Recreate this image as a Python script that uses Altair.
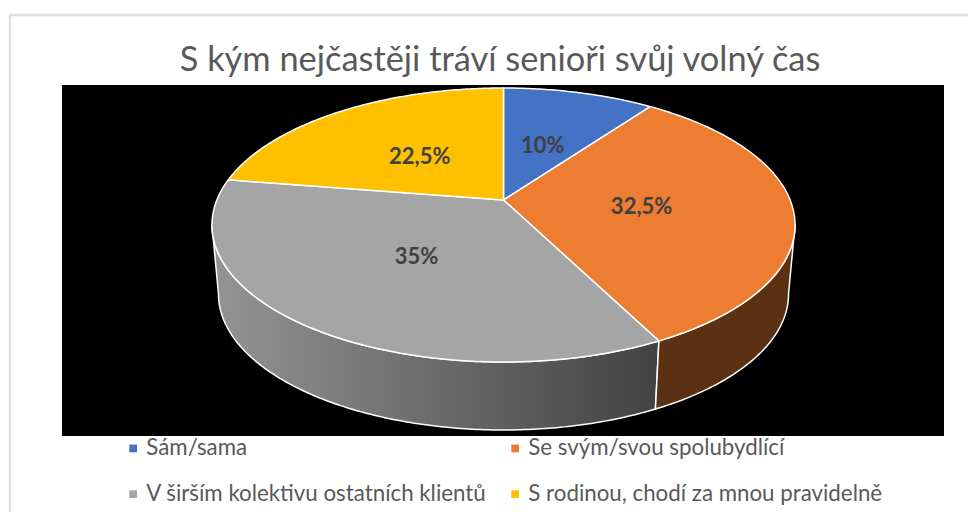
import math
import altair as alt
import pandas as pd

TITLE = "S kým nejčastěji tráví senioři svůj volný čas"
CATEGORIES = ["Sám/sama", "Se svým/svou spolubydlící", "V širším kolektivu ostatních klientů", "S rodinou, chodí za mnou pravidelně"]
SHARES = [10, 32.5, 35, 22.5]
LABELS = ["10%", "32,5%", "35%", "22,5%"]
COLORS = ["#4472C4", "#ED7D31", "#A5A5A5", "#FFC000"]
LEGEND_ORDER = [0, 2, 1, 3]
BROWN = "#5B3114"

W, H = 960, 504
OX, OY = 8, 8  # page margin

# tilted-disc projection of the pie (reference pixel frame)
CX, CY_TOP, RX_TOP, RY_TOP = 503.5, 225, 291.5, 137
CY_BOT, RX_BOT, RY_BOT = 294, 285, 136
P = 0.1825
SHIFT = 25


def project(theta_deg, r=1.0, cy=CY_TOP, rx=RX_TOP, ry=RY_TOP):
    t = math.radians(theta_deg)
    u, v = r * math.sin(t), r * math.cos(t)
    d = 1 + P * v
    a = rx / 1.017
    return CX - OX + a * u / d, cy - OY + (-ry * v - SHIFT * ry / RY_TOP) / d


def arc(t0, t1, **kw):
    n = max(2, int(abs(t1 - t0) * 1.5))
    return [project(t0 + (t1 - t0) * i / n, **kw) for i in range(n + 1)]


cum = [0]
for s in SHARES:
    cum.append(cum[-1] + s * 3.6)

rows = []
for cat, t0, t1 in zip(CATEGORIES, cum[:-1], cum[1:]):
    pts = [project(0, r=0)] + arc(t0, t1)
    pts.append(pts[0])
    for i, (x, y) in enumerate(pts):
        rows.append({"cat": cat, "x": x, "y": y, "i": i})
slices = pd.DataFrame(rows)

labels = pd.DataFrame(
    [
        dict(zip(("x", "y"), project((a + b) / 2, r=0.48))) | {"t": l}
        for a, b, l in zip(cum[:-1], cum[1:], LABELS)
    ]
)


def wall(t0, t1):
    top = arc(t0, t1)
    bot = arc(t1, t0, cy=CY_BOT, rx=RX_BOT, ry=RY_BOT)
    pts = top + bot + top[:1]
    return pd.DataFrame([{"x": x, "y": y, "i": i} for i, (x, y) in enumerate(pts)])


X = alt.X("x:Q", scale=alt.Scale(domain=[0, W], range=[0, W]), axis=None)
Y = alt.Y("y:Q", scale=alt.Scale(domain=[0, H], range=[0, H]), axis=None)
ORDER = alt.Order("i:Q")
one = pd.DataFrame({"a": [0]})

border_top = alt.Chart(one).mark_rule(stroke="#E0E0E0", strokeWidth=2.5).encode(
    x=alt.value(2), x2=alt.value(W), y=alt.value(7)
)
border_left = alt.Chart(one).mark_rule(stroke="#E0E0E0", strokeWidth=2.5).encode(
    x=alt.value(2), y=alt.value(6), y2=alt.value(H)
)
black = alt.Chart(one).mark_rect(fill="black").encode(
    x=alt.value(54), x2=alt.value(936), y=alt.value(77), y2=alt.value(428)
)
title = alt.Chart(pd.DataFrame({"t": [TITLE]})).mark_text(
    font="Lato", fontSize=34.4, color="#595959", align="center", baseline="alphabetic"
).encode(text="t:N", x=alt.value(492), y=alt.value(63))

grad = alt.LinearGradient(
    gradient="linear", x1=0, x2=1, y1=0, y2=0,
    stops=[alt.GradientStop(offset=0, color="#949494"), alt.GradientStop(offset=1, color="#424242")],
)
wall_grey = alt.Chart(wall(cum[2], 259.5)).mark_line(
    fill=grad, stroke="white", strokeWidth=1.5
).encode(x=X, y=Y, order=ORDER)
wall_brown = alt.Chart(wall(100.5, cum[2])).mark_line(
    fill=BROWN, stroke="white", strokeWidth=1.5
).encode(x=X, y=Y, order=ORDER)

top = alt.Chart(slices).mark_line(stroke="white", strokeWidth=1.5, strokeJoin="round").encode(
    x=X, y=Y, order=ORDER,
    fill=alt.Fill(
        "cat:N",
        scale=alt.Scale(
            domain=[CATEGORIES[i] for i in LEGEND_ORDER],
            range=[COLORS[i] for i in LEGEND_ORDER],
        ),
        sort=[CATEGORIES[i] for i in LEGEND_ORDER],
        legend=alt.Legend(
            title=None, orient="none", legendX=114, legendY=429, columns=2,
            symbolType="square", symbolSize=60, symbolStrokeWidth=0,
            labelFont="Lato", labelFontSize=22.3, labelColor="#595959",
            labelOffset=2, columnPadding=17, rowPadding=23, labelLimit=500,
        ),
    ),
)
text = alt.Chart(labels).mark_text(
    font="Lato", fontSize=22, fontWeight="bold", color="#404040", dy=2
).encode(x=X, y=Y, text="t:N")

chart = (
    alt.layer(border_top, border_left, black, title, wall_grey, wall_brown, top, text)
    .properties(width=W, height=H, padding=0, autosize=alt.AutoSizeParams(type="none"), background="white")
    .configure_view(stroke=None)
)
chart.save("out.html", embed_options={"renderer": "svg", "actions": False})
